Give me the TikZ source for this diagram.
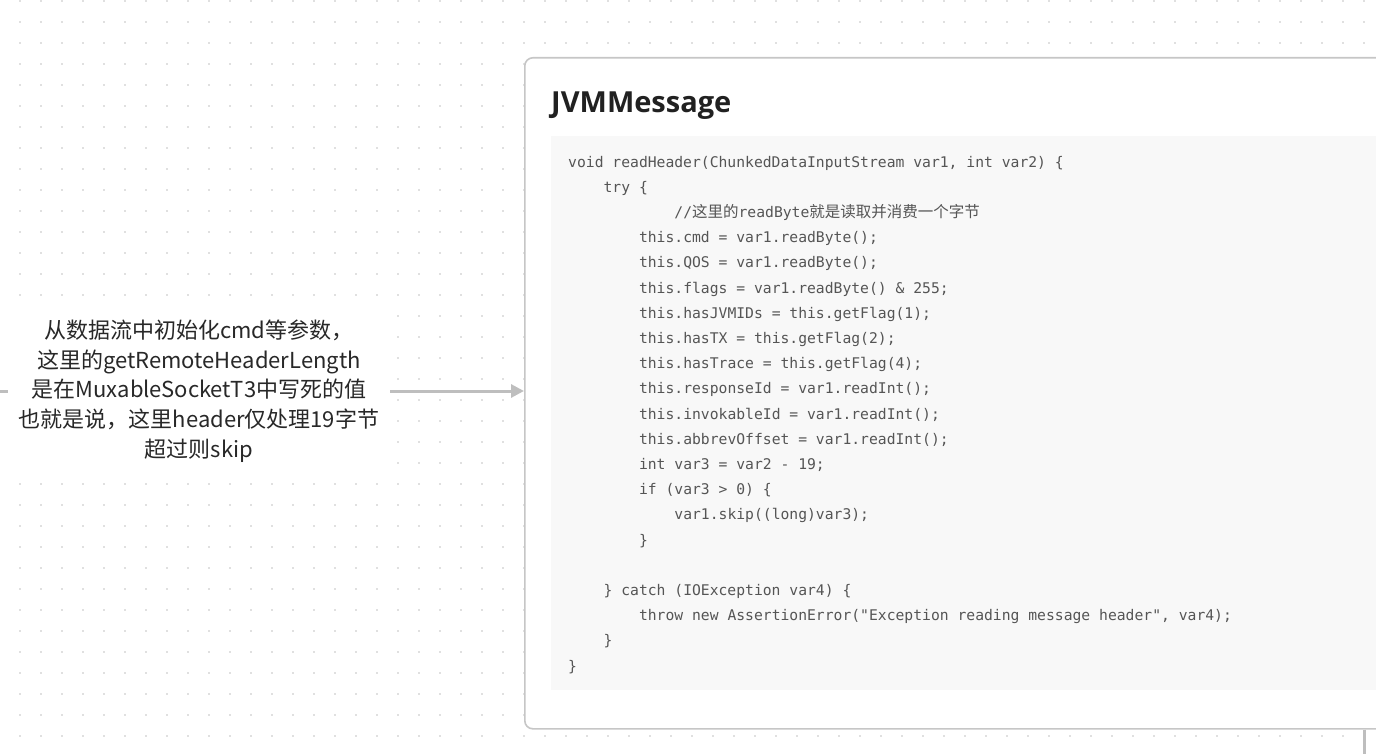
\documentclass[tikz,border=0pt]{standalone}
\usepackage{fontspec}
\setmainfont{Open Sans}
\newfontfamily\cjkfont{Noto Sans CJK SC}
\newfontfamily\codefont{DejaVu Sans Mono}
\usetikzlibrary{arrows.meta}
\usepackage{xcolor}
\definecolor{dotgray}{RGB}{224,224,224}
\definecolor{cardline}{RGB}{198,198,198}
\definecolor{linkgray}{RGB}{190,190,190}
\definecolor{codebg}{RGB}{248,248,248}
\definecolor{codetext}{RGB}{85,85,85}
\definecolor{notetext}{RGB}{40,40,40}
\newcommand{\ind}[1]{\hspace*{#1\fontcharwd\font`\0}}
\newcommand{\cjkcode}[1]{{\cjkfont\fontsize{15.5}{25.2}\selectfont #1}}
\tikzset{
  card/.style={draw=cardline,line width=1.6pt,fill=white,rounded corners=8pt,inner sep=0pt},
  codebox/.style={fill=codebg,inner sep=0pt},
  code/.style={align=left,inner sep=0pt,text=codetext,font=\codefont\fontsize{14.7}{25.2}\selectfont},
  title/.style={inner sep=0pt,text=black!87,font=\bfseries\fontsize{29}{32}\selectfont},
  note/.style={fill=white,inner sep=0pt,align=center,text=notetext,font=\cjkfont\fontsize{22}{29.7}\selectfont},
  link/.style={draw=linkgray,line width=3pt},
}
\begin{document}
\begin{tikzpicture}[x=1pt,y=-1pt]
\useasboundingbox (0,0) rectangle (1376,754);
\clip (0,0) rectangle (1376,754);
% dotted canvas
\foreach \i in {0,...,65}{\foreach \j in {0,...,35}{\fill[dotgray] ({21*\i+19},{21*\j}) rectangle ++(2,2);}}
% the class card
\node[card,anchor=north west,minimum width=900,minimum height=671] (card) at (524,57) {};
\node[codebox,anchor=north west,minimum width=860,minimum height=554] (codebg) at (551,136) {};
\node[title,anchor=base west] (name) at (551,113) {JVMMessage};
% base anchor sits on the last line
\node[code,anchor=base west] (src) at (568,671) {%
void readHeader(ChunkedDataInputStream var1, int var2) \{\\
\ind{4}try \{\\
\ind{12}//\cjkcode{这里的}readByte\cjkcode{就是读取并消费一个字节}\\
\ind{8}this.cmd = var1.readByte();\\
\ind{8}this.QOS = var1.readByte();\\
\ind{8}this.flags = var1.readByte() \& 255;\\
\ind{8}this.hasJVMIDs = this.getFlag(1);\\
\ind{8}this.hasTX = this.getFlag(2);\\
\ind{8}this.hasTrace = this.getFlag(4);\\
\ind{8}this.responseId = var1.readInt();\\
\ind{8}this.invokableId = var1.readInt();\\
\ind{8}this.abbrevOffset = var1.readInt();\\
\ind{8}int var3 = var2 - 19;\\
\ind{8}if (var3 > 0) \{\\
\ind{12}var1.skip((long)var3);\\
\ind{8}\}\\
\mbox{}\\
\ind{4}\} catch (IOException var4) \{\\
\ind{8}throw new AssertionError("Exception reading message header", var4);\\
\ind{4}\}\\
\}};
% the remark on the left
\node[note,minimum width=382,minimum height=170] (remark) at (199,391) {%
从数据流中初始化cmd等参数，\\
这里的getRemoteHeaderLength\\
是在MuxableSocketT3中写死的值\\
也就是说，这里header仅处理19字节\\
超过则skip};
\coordinate (from) at (0,391);
\coordinate (down) at (1364,754);
\draw[link] (from) -- (remark.west);
\draw[link,-{Triangle[length=13pt,width=13pt]}] (remark.east) -- (remark.east -| card.west);
\draw[link] (down |- card.south) -- (down);
\end{tikzpicture}
\end{document}
